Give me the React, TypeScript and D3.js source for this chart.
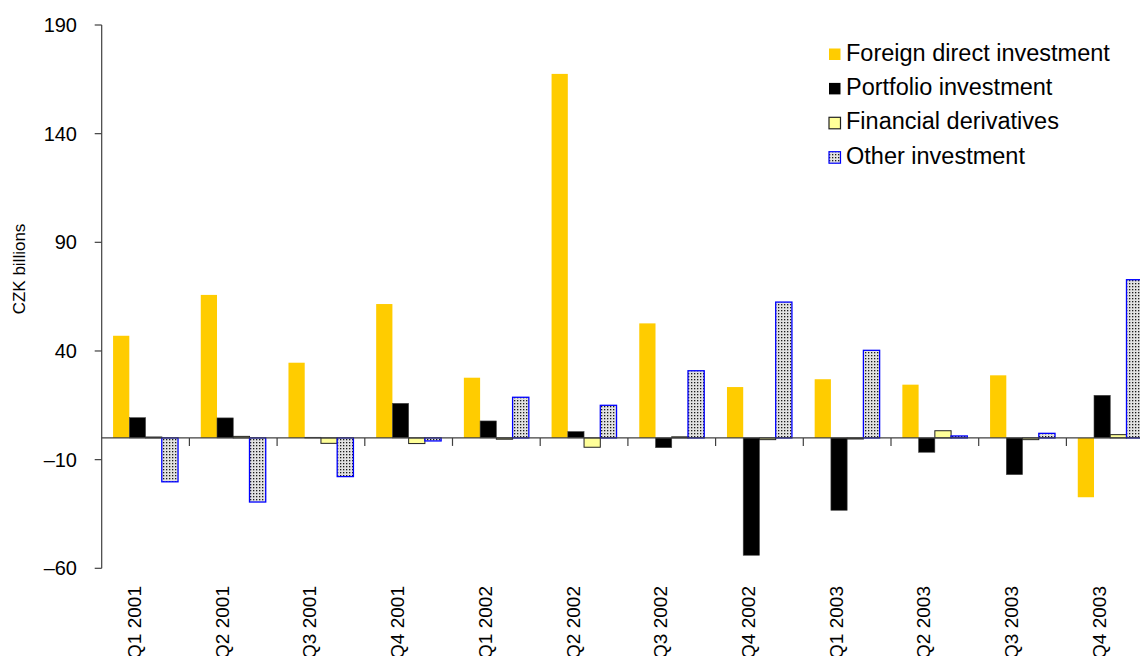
import React from "react";
import * as d3 from "d3";

const categories = ["Q1 2001", "Q2 2001", "Q3 2001", "Q4 2001", "Q1 2002", "Q2 2002", "Q3 2002", "Q4 2002", "Q1 2003", "Q2 2003", "Q3 2003", "Q4 2003"];
const seriesNames = ["Foreign direct investment", "Portfolio investment", "Financial derivatives", "Other investment"];
const fdi = [47, 65.8, 34.6, 61.6, 27.7, 167.5, 52.7, 23.4, 27, 24.5, 28.8, -27.3];
const portfolio = [9.3, 9.2, 0.3, 15.9, 7.8, 2.9, -4.5, -54, -33.3, -6.6, -16.9, 19.6];
const derivatives = [0.4, 0.7, -2.5, -2.6, -0.6, -4.3, 0.5, -0.8, -0.5, 3.3, -0.8, 1.5];
const other = [-20.2, -29.5, -17.8, -1.4, 18.7, 15, 30.9, 62.5, 40.3, 0.9, 2.1, 72.8];
const yTicks = [-60, -10, 40, 90, 140, 190];

const W = 1140;
const H = 656;
const FONT = "'Liberation Sans', Arial, sans-serif";

const styles = [
  { fill: "#FFCC00", stroke: "none", sw: 0 },
  { fill: "#000000", stroke: "#444", sw: 0.6 },
  { fill: "#FFFF99", stroke: "#222", sw: 1 },
  { fill: "url(#dots)", stroke: "#0000FF", sw: 1.3 },
];

export default function App() {
  const series = [fdi, portfolio, derivatives, other];
  const left = 101.7;
  const step = 87.7;
  const x0 = d3.scaleBand<string>().domain(categories).range([left, left + step * categories.length]).padding(0);
  const x1 = d3.scaleBand<string>().domain(seriesNames).range([0, x0.bandwidth()]).paddingInner(0).paddingOuter(0.7);
  const y = d3.scaleLinear().domain([-60, 190]).range([568.3, 25]);
  const y0 = y(0);
  const axisColor = "#404040";

  return (
    <svg width={W} height={H} style={{ position: "absolute", left: 0, top: 0, display: "block", background: "#fff" }} fontFamily={FONT}>
      <defs>
        <pattern id="dots" width={3} height={3} patternUnits="userSpaceOnUse">
          <rect width={3} height={3} fill="#e2e2e2" />
          <rect x={1} y={1} width={1.3} height={1.3} fill="#1a1a1a" />
        </pattern>
      </defs>
      {/* bars */}
      {series.map((vals, si) =>
        vals.map((v, ci) => {
          const bx = (x0(categories[ci]) as number) + (x1(seriesNames[si]) as number);
          const top = Math.min(y(v), y0);
          const h = Math.abs(y(v) - y0);
          const st = styles[si];
          return (
            <rect
              key={`${si}-${ci}`}
              x={bx}
              y={top}
              width={x1.bandwidth()}
              height={Math.max(h, 0.8)}
              fill={st.fill}
              stroke={st.stroke}
              strokeWidth={st.sw}
            />
          );
        })
      )}
      {/* y axis */}
      <line x1={left} x2={left} y1={y(190)} y2={y(-60)} stroke={axisColor} strokeWidth={1.2} />
      {yTicks.map((t) => (
        <g key={t}>
          <line x1={left - 7} x2={left} y1={y(t)} y2={y(t)} stroke={axisColor} strokeWidth={1.2} />
          <text x={77} y={y(t)} dy="0.35em" textAnchor="end" fontSize={20} fill="#000">
            {t < 0 ? "\u2013" + Math.abs(t) : String(t)}
          </text>
        </g>
      ))}
      {/* x axis */}
      <line x1={left} x2={W} y1={y0} y2={y0} stroke={axisColor} strokeWidth={1.2} />
      {categories.map((c, i) =>
        i === 0 ? null : (
          <line key={c} x1={x0(c) as number} x2={x0(c) as number} y1={y0} y2={y0 + 8} stroke={axisColor} strokeWidth={1.2} />
        )
      )}
      {categories.map((c) => {
        const cx = (x0(c) as number) + x0.bandwidth() / 2 - 4.5;
        return (
          <text key={c} transform={`translate(${cx},586) rotate(-90)`} textAnchor="end" fontSize={19} fill="#000">
            {c}
          </text>
        );
      })}
      {/* y title */}
      <text transform={`translate(25,269) rotate(-90)`} textAnchor="middle" fontSize={17} fill="#000">
        CZK billions
      </text>
      {/* legend */}
      {seriesNames.map((n, i) => {
        const ly = 60.5 + i * 34.4;
        const st = styles[i];
        return (
          <g key={n}>
            <rect x={829} y={ly - 12} width={11.5} height={11.5} fill={st.fill} stroke={i === 0 ? "none" : st.stroke} strokeWidth={i === 1 ? 0 : 1.2} />
            <text x={846} y={ly} fontSize={23.5} fill="#000">
              {n}
            </text>
          </g>
        );
      })}
    </svg>
  );
}
